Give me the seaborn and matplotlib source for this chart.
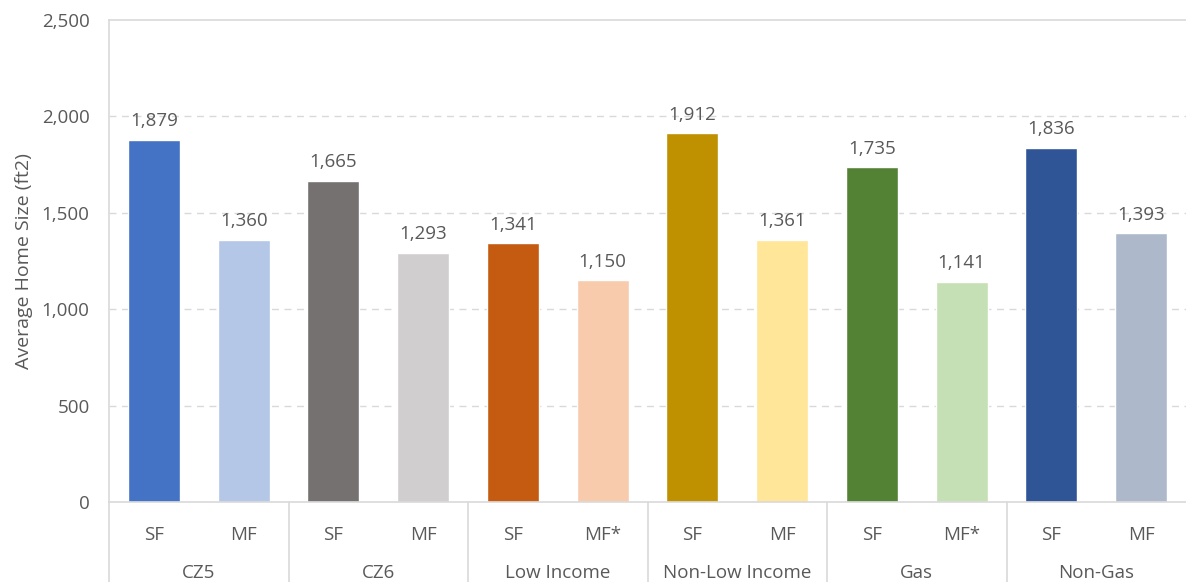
import matplotlib
matplotlib.use("Agg")
import matplotlib.pyplot as plt
import pandas as pd
import seaborn as sns

groups = ["CZ5", "CZ6", "Low Income", "Non-Low Income", "Gas", "Non-Gas"]
sub_labels = ["SF", "MF", "SF", "MF", "SF", "MF*", "SF", "MF", "SF", "MF*", "SF", "MF"]
home_size = [1879, 1360, 1665, 1293, 1341, 1150, 1912, 1361, 1735, 1141, 1836, 1393]
bar_colors = [
    "#4472C4", "#B4C7E7",
    "#767171", "#D0CECE",
    "#C55A11", "#F8CBAD",
    "#BF9000", "#FFE699",
    "#548235", "#C5E0B4",
    "#2F5597", "#ADB9CA",
]

TEXT = "#595959"
LINE = "#D9D9D9"
FS = 13.5

sns.set_style("white")
plt.rcParams["font.family"] = ["Open Sans", "DejaVu Sans"]

bar_ids = [f"{groups[i // 2]}|{s}" for i, s in enumerate(sub_labels)]
df = pd.DataFrame({"Bar": bar_ids, "Size": home_size})

fig = plt.figure(figsize=(11.86, 5.82), dpi=100)
ax = fig.add_axes([109 / 1186, 80 / 582, 1077 / 1186, 482 / 582])

sns.barplot(
    data=df, x="Bar", y="Size", hue="Bar", palette=bar_colors,
    width=0.58, legend=False, ax=ax, saturation=1,
)

for cont in ax.containers:
    ax.bar_label(cont, labels=[f"{v:,.0f}" for v in cont.datavalues],
                 padding=7, fontsize=FS, color=TEXT)

ax.set_ylim(0, 2500)
ax.set_xlim(-0.5, len(home_size) - 0.5)
ax.set_yticks(range(0, 2501, 500))
ax.set_yticklabels([f"{v:,}" for v in range(0, 2501, 500)], fontsize=FS, color=TEXT)
ax.tick_params(axis="y", length=0, pad=14)
ax.set_ylabel("Average Home Size (ft2)", fontsize=14, color=TEXT, labelpad=6)
ax.set_xlabel("")

ax.set_xticks(range(len(sub_labels)))
ax.set_xticklabels(sub_labels, fontsize=FS, color=TEXT)
ax.tick_params(axis="x", length=0, pad=17)

for y in range(500, 2500, 500):
    ax.axhline(y, color=LINE, linestyle=(0, (5, 4)), linewidth=1, zorder=0)

for side in ["left", "bottom", "top"]:
    ax.spines[side].set_color(LINE)
    ax.spines[side].set_linewidth(1.2)
ax.spines["right"].set_visible(False)

# group labels and separators below the axis
trans = ax.get_xaxis_transform()
for g, name in enumerate(groups):
    ax.annotate(name, xy=(2 * g + 0.5, 0), xycoords=trans,
                xytext=(0, -51), textcoords="offset points",
                ha="center", va="center", fontsize=FS, color=TEXT)
for x in [-0.5, 1.5, 3.5, 5.5, 7.5, 9.5]:
    ax.plot([x, x], [0, -0.17], transform=trans, color=LINE,
            linewidth=1.2, clip_on=False)

fig.savefig("out.png", dpi=100)
